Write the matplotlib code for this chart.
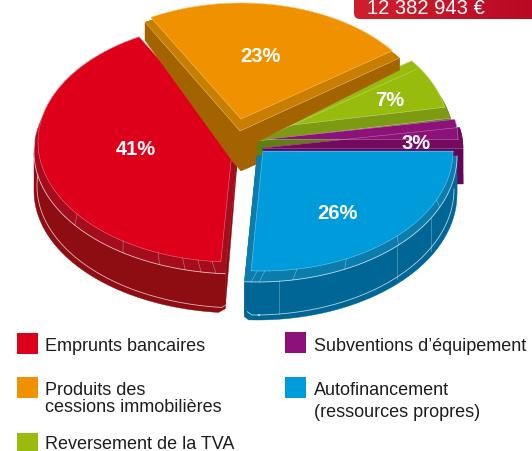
import numpy as np
import matplotlib
matplotlib.use("Agg")
import matplotlib.pyplot as plt
from matplotlib.patches import Polygon, FancyBboxPatch, Rectangle

plt.rcParams['font.family'] = ['Liberation Sans', 'DejaVu Sans']

# data
names = ['Emprunts bancaires', 'Autofinancement', 'Subventions', 'Reversement', 'Produits']
shares = [41, 26, 3, 7, 23]
total_text = '12 382 943 €'
legend_left = ['Emprunts bancaires', 'Produits des\ncessions immobilières', 'Reversement de la TVA']
legend_right = ['Subventions d’équipement', 'Autofinancement\n(ressources propres)']

start_angle = 118.8

# colours : top face, bevel, side
colors = {
    'Emprunts bancaires': ('#DE001B', '#A50D1D', '#8D0D13'),
    'Autofinancement': ('#009BDB', '#0A7DAD', '#006695'),
    'Subventions': ('#8C1279', '#740A5F', '#64045A'),
    'Reversement': ('#97BC0E', '#7C9B13', '#5E8012'),
    'Produits': ('#F09100', '#C87E00', '#A36400'),
}

# top centre + radii, bevel centre + radii, side depth (apex, first corner, last corner)
geom = {
    'Emprunts bancaires': dict(top=(233, 143, 195, 120), mid=(238, 153, 204, 122), depth=(0, 39, 39)),
    'Autofinancement': dict(top=(263, 152, 190, 120), mid=(257, 157, 200, 126), depth=(0, 38, 38)),
    'Subventions': dict(top=(268, 140, 190, 105), mid=(263, 149, 200, 110), depth=(36, 36, 10)),
    'Reversement': dict(top=(258, 130, 190, 116), mid=(257, 142, 197, 122), depth=(35, 20, 20)),
    'Produits': dict(top=(241, 120, 187, 116), mid=(240, 132, 197, 124), depth=(40, 12, 18)),
}
# outline of the foot under the orange slice, relative to its apex
orange_foot = [(17, 11), (17, 33), (1, 40), (-7, 31)]
ticks = {
    'Emprunts bancaires': [216.9, 235.7, 247.4, 255, 259.6, 263.8],
    'Autofinancement': [268.3, 270.6, 280.3, 296, 315, 336],
}
side_ticks = {'Autofinancement': [276.3, 314.4, 330.5]}
label_pos = {
    'Emprunts bancaires': (136, 150), 'Autofinancement': (337, 214),
    'Subventions': (416, 144), 'Reversement': (390, 101), 'Produits': (260, 57),
}
draw_order = ['Reversement', 'Subventions', 'Emprunts bancaires', 'Produits', 'Autofinancement']

fig = plt.figure(figsize=(5.32, 4.52), dpi=100)
ax = fig.add_axes([0, 0, 1, 1])


def ell(e, t):
    t = np.radians(t)
    return np.column_stack([e[0] + e[2] * np.cos(t), e[1] - e[3] * np.sin(t)])


def wedge(e, a, b):
    return np.vstack([[e[0], e[1]], ell(e, np.linspace(a, b, 80))])


angles = {}
cur = start_angle
for n, s in zip(names, shares):
    angles[n] = (cur, cur + s * 3.6)
    cur += s * 3.6

for k, n in enumerate(draw_order):
    z = k + 1
    a, b = angles[n]
    g = geom[n]
    top_c, band_c, side_c = colors[n]
    d0, d1, d2 = g['depth']
    th = np.linspace(a, b, 80)
    arc = ell(g['mid'], th)
    low = arc.copy()
    low[:, 1] += np.linspace(d1, d2, 80)
    # little chamfer where the side meets the front corner
    if n == 'Emprunts bancaires':
        low[-1, 1] -= 4
    if n == 'Autofinancement':
        low[0, 1] -= 3
    apex = np.array([g['mid'][0], g['mid'][1]])
    # the red one turns back at 180 deg, above that the side is hidden anyway
    vis = th >= 180 if n == 'Emprunts bancaires' else np.ones(len(th), bool)
    ax.add_patch(Polygon(np.vstack([arc[vis], low[vis][::-1]]), fc=side_c, ec=side_c, lw=0.3, zorder=z))
    if n == 'Produits':
        foot = apex + np.array(orange_foot)
        ax.add_patch(Polygon(np.vstack([apex, arc[0], low[0], foot, low[-1], arc[-1]]),
                             fc=side_c, ec=side_c, lw=0.3, zorder=z))
    else:
        for corner, cl in ((arc[0], low[0]), (arc[-1], low[-1])):
            ax.add_patch(Polygon([apex, apex + [0, d0], cl, corner], fc=side_c, ec=side_c, lw=0.3, zorder=z))
    ax.add_patch(Polygon(wedge(g['mid'], a, b), fc=band_c, ec=band_c, lw=0.3, zorder=z))
    ax.add_patch(Polygon(wedge(g['top'], a, b), fc=top_c, ec=top_c, lw=0.3, zorder=z))
    # thin light lines on the edges
    w = wedge(g['top'], a, b)
    ax.plot(w[1:, 0], w[1:, 1], color='white', lw=0.4, alpha=0.45, zorder=z)
    ax.plot(*np.array([w[0], w[-1]]).T, color='white', lw=0.4, alpha=0.45, zorder=z)
    ax.plot(*np.array([w[0], w[1]]).T, color='white', lw=0.4, alpha=0.45, zorder=z)
    w = wedge(g['mid'], a, b)
    if n in ('Emprunts bancaires', 'Autofinancement'):
        sel = np.sin(np.radians(th)) < 0.1
        ax.plot(w[1:, 0][sel], w[1:, 1][sel], color='white', lw=0.6, alpha=0.7, zorder=z)
        line = low[sel].copy()
        line[:, 1] -= 5
        line[:, 0] += np.where(line[:, 0] < g['mid'][0], 3, -3)
        ax.plot(line[:, 0], line[:, 1], color='white', lw=0.6, alpha=0.7, zorder=z)
    else:
        ax.plot(*np.array([w[0], w[1]]).T, color='white', lw=0.4, alpha=0.4, zorder=z)
        ax.plot(*np.array([w[0], w[-1]]).T, color='white', lw=0.4, alpha=0.4, zorder=z)
    for t in ticks.get(n, []):
        p = np.vstack([ell(g['top'], [t]), ell(g['mid'], [t])])
        ax.plot(p[:, 0], p[:, 1], color='white', lw=0.4, alpha=0.45, zorder=z)
    for t in side_ticks.get(n, []):
        p = ell(g['mid'], [t])[0]
        ax.plot([p[0], p[0]], [p[1], p[1] + d1 - 5], color='white', lw=0.4, alpha=0.45, zorder=z)

for n, s in zip(names, shares):
    x, y = label_pos[n]
    ax.text(x, y, f'{s}%', color='white', fontsize=14.5, fontweight='bold', ha='center', va='center', zorder=10)

# banner with total
banner = FancyBboxPatch((360, -20), 190, 34, boxstyle='round,pad=6,rounding_size=6', fc='none', ec='none',
                        transform=ax.transData)
ax.add_patch(banner)
grad = np.linspace(0, 1, 256).reshape(1, -1, 1)
rgb = (1 - grad) * np.array([0xD0, 0x20, 0x2E]) / 255 + grad * np.array([0xB8, 0x0A, 0x24]) / 255
im = ax.imshow(rgb, extent=(354, 532, 20, -26), aspect='auto', zorder=11)
im.set_clip_path(banner)
ax.text(367, 14, total_text, color='white', fontsize=14.5, ha='left', va='baseline', zorder=12)

# legend
left_y = [(334, 351, 0), (378, 395, 1), (434, 449, 2)]
right_y = [(333, 351, 0), (378, 395, 1)]
left_cols = ['Emprunts bancaires', 'Produits', 'Reversement']
right_cols = ['Subventions', 'Autofinancement']
for lab, (sq, base, i), key in zip(legend_left, left_y, left_cols):
    ax.add_patch(Rectangle((17, sq), 21, 21 if i < 2 else 18, fc=colors[key][0], ec='none'))
    for j, part in enumerate(lab.split('\n')):
        ax.text(45, base + j * 17, part, fontsize=13, color='#1d1d1b', va='baseline')
for lab, (sq, base, i), key in zip(legend_right, right_y, right_cols):
    ax.add_patch(Rectangle((285, sq), 21, 21, fc=colors[key][0], ec='none'))
    for j, part in enumerate(lab.split('\n')):
        ax.text(314, base + j * 22, part, fontsize=13, color='#1d1d1b', va='baseline')

ax.set_xlim(0, 532)
ax.set_ylim(452, 0)
ax.axis('off')
fig.savefig('out.png', dpi=100)
